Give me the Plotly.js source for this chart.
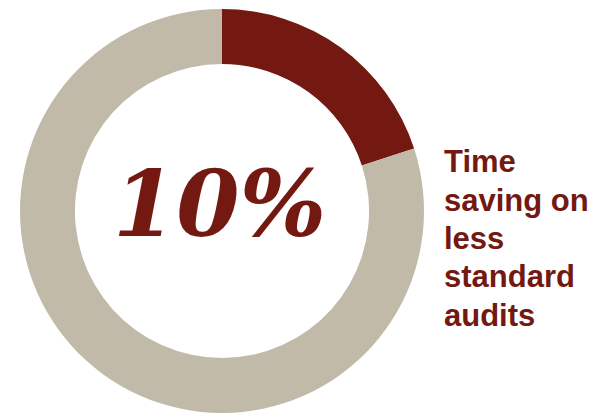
<!DOCTYPE html>
<html>
<head>
<meta charset="utf-8">
<script src="https://cdn.plot.ly/plotly-3.0.1.min.js"></script>
<style>
  html, body { margin: 0; padding: 0; background: #ffffff; overflow: hidden; }
  #chart { width: 598px; height: 415px; }
</style>
</head>
<body>
<div id="chart"></div>
<script>
const categories = ["Time saving on less standard audits", "Other"];
const values = [20, 80];
const colors = ["#731911", "#C1BAA8"];
const centerLabel = "10%";
const sideLines = ["Time", "saving on", "less", "standard", "audits"];

const W = 598, H = 415;
const textColor = "#731911";

// side label lines: first baseline and line pitch in pixels
const firstBaseline = 173, linePitch = 38.3, sideFont = 31;

const annotations = [{
  text: centerLabel,
  xref: "paper", yref: "paper",
  x: 219.5 / W, y: (H - 204) / H,
  xanchor: "center", yanchor: "middle",
  showarrow: false,
  font: { family: "DejaVu Serif, serif", size: 91, color: textColor, weight: "bold", style: "italic" }
}];
sideLines.forEach(function (line, i) {
  const base = firstBaseline + i * linePitch;
  annotations.push({
    text: line,
    xref: "paper", yref: "paper",
    x: 442 / W, y: (H - (base - 0.36 * sideFont)) / H,
    xanchor: "left", yanchor: "middle",
    align: "left",
    showarrow: false,
    font: { family: "Liberation Sans, Arial, sans-serif", size: sideFont, color: textColor, weight: "bold" }
  });
});

const data = [{
  type: "pie",
  labels: categories,
  values: values,
  marker: { colors: colors, line: { width: 0 } },
  hole: 0.728,
  sort: false,
  direction: "clockwise",
  rotation: 0,
  textinfo: "none",
  hoverinfo: "label+value",
  domain: { x: [20 / W, 424 / W], y: [2 / H, 406 / H] }
}];

const layout = {
  width: W,
  height: H,
  margin: { l: 0, r: 0, t: 0, b: 0 },
  paper_bgcolor: "#ffffff",
  showlegend: false,
  annotations: annotations
};

Plotly.newPlot("chart", data, layout, { displayModeBar: false, staticPlot: true });
</script>
</body>
</html>
